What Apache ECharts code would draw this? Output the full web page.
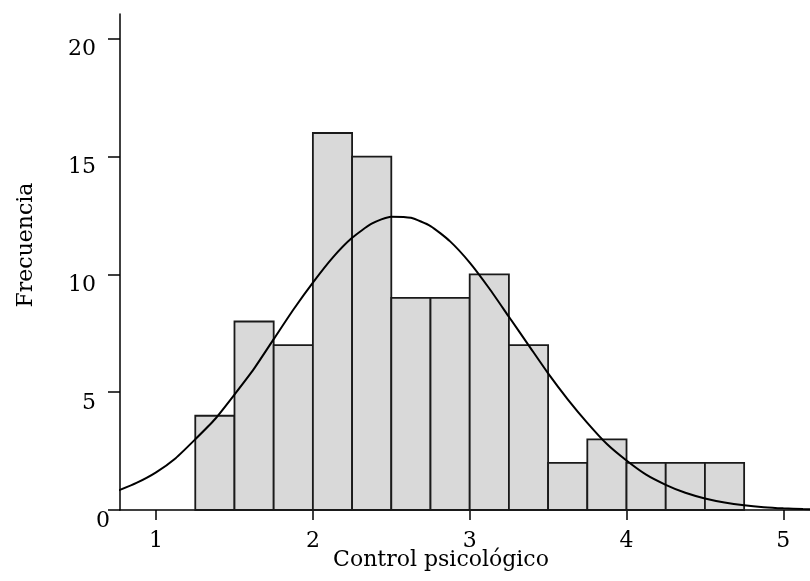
<!DOCTYPE html>
<html>
<head>
  <meta charset="utf-8">
  <title>Control psicológico</title>
  <script src="https://cdn.jsdelivr.net/npm/echarts@6/dist/echarts.min.js"></script>
  <style>
    html, body { margin: 0; padding: 0; background: #fff; }
  </style>
</head>
<body>
  <div id="main" style="width: 810px;height:581px;"></div>
  <script>
    // histogram bins (width 0.25)
    var binStart = [1.25, 1.5, 1.75, 2.0, 2.25, 2.5, 2.75, 3.0, 3.25, 3.5, 3.75, 4.0, 4.25, 4.5];
    var binEnd = [1.5, 1.75, 2.0, 2.25, 2.5, 2.75, 3.0, 3.25, 3.5, 3.75, 4.0, 4.25, 4.5, 4.75];
    var counts = [4, 8, 7, 16, 15, 9, 9, 10, 7, 2, 3, 2, 2, 2];

    // normal curve
    var curveX = [0.75, 0.875, 1.0, 1.125, 1.25, 1.375, 1.5, 1.625, 1.75, 1.875, 2.0, 2.125, 2.25, 2.375, 2.5, 2.625,
      2.75, 2.875, 3.0, 3.125, 3.25, 3.375, 3.5, 3.625, 3.75, 3.875, 4.0, 4.125, 4.25, 4.375, 4.5, 4.625,
      4.75, 4.875, 5.0, 5.125, 5.25];
    var curveY = [0.8, 1.15, 1.6, 2.2, 3.0, 3.85, 4.9, 6.0, 7.25, 8.5, 9.65, 10.7, 11.55, 12.15, 12.45, 12.4,
      12.05, 11.4, 10.5, 9.4, 8.2, 7.0, 5.8, 4.7, 3.7, 2.8, 2.1, 1.5, 1.07, 0.73, 0.49, 0.32,
      0.2, 0.12, 0.07, 0.04, 0.02];

    var xTicks = [1, 2, 3, 4, 5];
    var yTicks = [0, 5, 10, 15, 20];

    var font = 'DejaVu Serif';
    var chart = echarts.init(document.getElementById('main'));

    var bars = [];
    for (var i = 0; i < counts.length; i++) {
      bars.push([binStart[i], binEnd[i], counts[i]]);
    }
    var curve = [];
    for (var j = 0; j < curveX.length; j++) {
      curve.push([curveX[j], curveY[j]]);
    }

    var option = {
      animation: false,
      grid: { left: 120, right: 0, top: 14, bottom: 71, outerBoundsMode: 'none' },
      xAxis: {
        type: 'value',
        min: 0.77,
        max: 5.17,
        name: 'Control psicológico',
        nameLocation: 'middle',
        nameGap: 39,
        nameMoveOverlap: false,
        nameTextStyle: { fontFamily: font, fontSize: 22, color: '#000', padding: [0, 48, 0, 0] },
        axisLine: { onZero: false, lineStyle: { color: '#000', width: 1.5 } },
        axisTick: { show: true, length: 10, customValues: xTicks, lineStyle: { color: '#000', width: 1.5 } },
        axisLabel: { customValues: xTicks, margin: 20, fontFamily: font, fontSize: 22, color: '#000' },
        splitLine: { show: false }
      },
      yAxis: {
        type: 'value',
        min: 0,
        max: 21.05,
        name: 'Frecuencia',
        nameLocation: 'middle',
        nameGap: 83,
        nameRotate: 90,
        nameMoveOverlap: false,
        nameTextStyle: { fontFamily: font, fontSize: 22, color: '#000', padding: [0, 0, 0, 34] },
        axisLine: { show: true, lineStyle: { color: '#000', width: 1.5 } },
        axisTick: { show: true, length: 12, customValues: yTicks, lineStyle: { color: '#000', width: 1.5 } },
        axisLabel: {
          customValues: yTicks,
          margin: 10,
          fontFamily: font,
          fontSize: 22,
          color: '#000',
          verticalAlign: 'top',
          formatter: function (v) {
            return v === 0 ? '{z|0}' : '{n|' + v + '}';
          },
          rich: {
            z: { fontFamily: font, fontSize: 22, color: '#000', padding: [0, 0, 0, 0] },
            n: { fontFamily: font, fontSize: 22, color: '#000', padding: [0, 14, 0, 0] }
          }
        },
        splitLine: { show: false }
      },
      series: [{
        type: 'custom',
        data: bars,
        encode: { x: [0, 1], y: 2 },
        renderItem: function (params, api) {
          var p0 = api.coord([api.value(0), api.value(2)]);
          var p1 = api.coord([api.value(1), 0]);
          return {
            type: 'rect',
            shape: { x: p0[0], y: p0[1], width: p1[0] - p0[0], height: p1[1] - p0[1] },
            style: { fill: '#d9d9d9', stroke: '#1a1a1a', lineWidth: 1.8 }
          };
        }
      }, {
        type: 'line',
        data: curve,
        smooth: 0.2,
        showSymbol: false,
        symbol: 'none',
        lineStyle: { color: '#000', width: 2 },
        z: 5
      }]
    };
    chart.setOption(option);
  </script>
</body>
</html>
